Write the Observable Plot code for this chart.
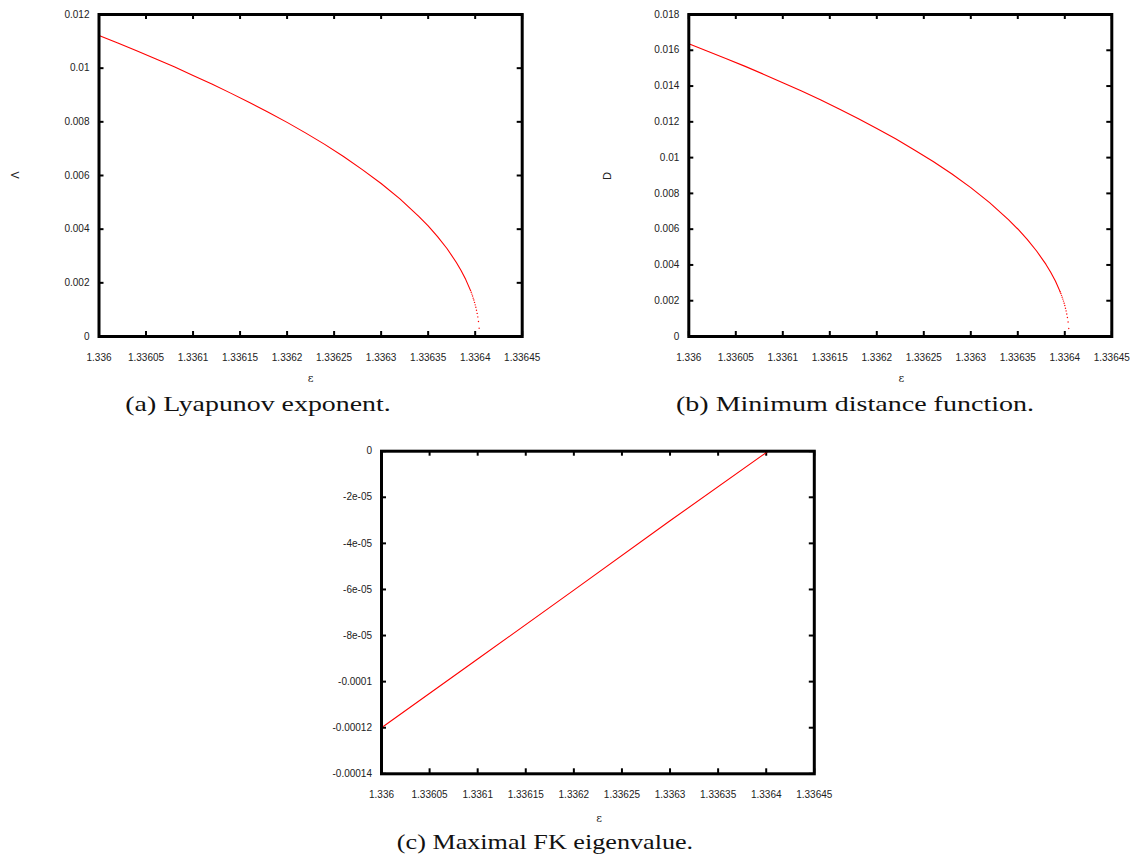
<!DOCTYPE html>
<html><head><meta charset="utf-8">
<script src="https://cdn.jsdelivr.net/npm/d3@7"></script>
<script src="https://cdn.jsdelivr.net/npm/@observablehq/plot@0.6"></script>
<style>
body{margin:0;background:#fff;}
#fig{position:relative;width:1141px;height:857px;background:#fff;overflow:hidden;}
.pn{position:absolute;}
.lab{position:absolute;transform:translate(-50%,-50%);white-space:nowrap;line-height:1;}
.cap{font-family:"Liberation Serif",serif;font-size:22px;color:#111;}
.eps{font-family:"DejaVu Serif",serif;font-size:11px;color:#222;}
.yl{font-family:"Liberation Sans",sans-serif;font-size:11px;color:#222;transform:translate(-50%,-50%) rotate(-90deg);}
</style></head><body><div id="fig"></div>
<script>
// ---- data ----
const epsMain = [1.336, 1.33602, 1.33604, 1.33606, 1.33608, 1.3361, 1.33612, 1.33614, 1.33616, 1.33618, 1.3362,
  1.33622, 1.33624, 1.33626, 1.33628, 1.3363, 1.33632, 1.33634, 1.33635, 1.33636, 1.33637, 1.33638, 1.336385, 1.33639, 1.336395];
const lyapMain = [0.01122, 0.01094, 0.01065, 0.01035, 0.01005, 0.00973, 0.00941, 0.00907, 0.00872, 0.00836, 0.00798,
  0.00758, 0.00716, 0.00671, 0.00622, 0.00570, 0.00513, 0.00448, 0.00412, 0.00372, 0.00328, 0.00276, 0.00246, 0.00212, 0.00172];
const distMain = [0.01636, 0.01595, 0.01553, 0.01510, 0.01465, 0.01419, 0.01372, 0.01323, 0.01272, 0.01219, 0.01163,
  0.01105, 0.01043, 0.00978, 0.00908, 0.00832, 0.00748, 0.00653, 0.00601, 0.00543, 0.00478, 0.00403, 0.00359, 0.00310, 0.00251];
const epsTail = [1.3363951, 1.3363958, 1.3363965, 1.3363972, 1.3363979, 1.3363986, 1.3363993, 1.3364, 1.3364007,
  1.3364014, 1.3364021, 1.3364028, 1.3364035, 1.3364042, 1.3364045];
const lyapTail = [0.00171, 0.00165, 0.00158, 0.00151, 0.00143, 0.00136, 0.00127, 0.00118, 0.00109,
  0.00098, 0.00086, 0.00073, 0.00056, 0.00031, 0.00002];
const distTail = [0.00249, 0.00240, 0.00230, 0.00220, 0.00209, 0.00198, 0.00186, 0.00173, 0.00158,
  0.00143, 0.00126, 0.00106, 0.00081, 0.00045, 0.00003];
const epsFK = [1.336, 1.3361, 1.3362, 1.3363, 1.336402];
const fkEig = [-0.000120, -0.0000902, -0.0000603, -0.0000302, 0];

const xTicks = [1.336, 1.33605, 1.3361, 1.33615, 1.3362, 1.33625, 1.3363, 1.33635, 1.3364, 1.33645];
const xTickLabels = ["1.336", "1.33605", "1.3361", "1.33615", "1.3362", "1.33625", "1.3363", "1.33635", "1.3364", "1.33645"];
const yTicksA = [0, 0.002, 0.004, 0.006, 0.008, 0.01, 0.012];
const yTickLabelsA = ["0", "0.002", "0.004", "0.006", "0.008", "0.01", "0.012"];
const yTicksB = [0, 0.002, 0.004, 0.006, 0.008, 0.01, 0.012, 0.014, 0.016, 0.018];
const yTickLabelsB = ["0", "0.002", "0.004", "0.006", "0.008", "0.01", "0.012", "0.014", "0.016", "0.018"];
const yTicksC = [-0.00014, -0.00012, -0.0001, -0.00008, -0.00006, -0.00004, -0.00002, 0];
const yTickLabelsC = ["-0.00014", "-0.00012", "-0.0001", "-8e-05", "-6e-05", "-4e-05", "-2e-05", "0"];

const panels = [
  {left: 0, top: 0, width: 560, height: 370, mL: 98.5, mR: 38.3, mT: 14, mB: 34,
   yDomain: [0, 0.012], yTicks: yTicksA, yLabels: yTickLabelsA,
   lineX: epsMain, lineY: lyapMain, dotX: epsTail, dotY: lyapTail},
  {left: 580, top: 0, width: 561, height: 370, mL: 108.3, mR: 29.7, mT: 14, mB: 34,
   yDomain: [0, 0.018], yTicks: yTicksB, yLabels: yTickLabelsB,
   lineX: epsMain, lineY: distMain, dotX: epsTail, dotY: distTail},
  {left: 280, top: 436, width: 560, height: 370, mL: 101, mR: 26.2, mT: 14.7, mB: 32.7,
   yDomain: [-0.00014, 0], yTicks: yTicksC, yLabels: yTickLabelsC,
   lineX: epsFK, lineY: fkEig, dotX: [], dotY: []}
];

const fig = document.getElementById("fig");
const TL = 5;
for (const p of panels) {
  const pw = p.width - p.mL - p.mR, ph = p.height - p.mT - p.mB;
  const chart = Plot.plot({
    width: p.width, height: p.height,
    marginLeft: p.mL, marginRight: p.mR, marginTop: p.mT, marginBottom: p.mB,
    style: {fontFamily: "Liberation Sans, Arial, sans-serif", fontSize: "10px", color: "#222", background: "transparent", overflow: "visible"},
    x: {domain: [1.336, 1.33645]},
    y: {domain: p.yDomain},
    marks: [
      Plot.ruleX(xTicks, {x: d => d, insetTop: ph - TL, stroke: "#000", strokeWidth: 2}),
      Plot.ruleX(xTicks, {x: d => d, insetBottom: ph - TL, stroke: "#000", strokeWidth: 2}),
      Plot.ruleY(p.yTicks, {y: d => d, insetRight: pw - TL, stroke: "#000", strokeWidth: 2}),
      Plot.ruleY(p.yTicks, {y: d => d, insetLeft: pw - TL, stroke: "#000", strokeWidth: 2}),
      Plot.axisX(xTicks, {anchor: "bottom", tickSize: 0, tickPadding: 17, label: null,
        tickFormat: d => xTickLabels[xTicks.indexOf(d)]}),
      Plot.axisY(p.yTicks, {anchor: "left", tickSize: 0, tickPadding: 9.5, label: null,
        tickFormat: d => p.yLabels[p.yTicks.indexOf(d)]}),
      Plot.line(p.lineX, {x: d => d, y: (d, i) => p.lineY[i], stroke: "#ff0000", strokeWidth: 1.1}),
      Plot.dot(p.dotX, {x: d => d, y: (d, i) => p.dotY[i], r: 0.7, fill: "#ff0000", stroke: null}),
      Plot.frame({stroke: "#000", strokeWidth: 3})
    ]
  });
  chart.classList.add("pn");
  chart.style.left = p.left + "px";
  chart.style.top = p.top + "px";
  fig.appendChild(chart);
}

const labels = [
  {text: "Λ", x: 15, y: 175, cls: "yl"},
  {text: "D", x: 607, y: 176, cls: "yl"},
  {text: "ε", x: 310.7, y: 378, cls: "eps"},
  {text: "ε", x: 901.3, y: 378, cls: "eps"},
  {text: "ε", x: 599, y: 818, cls: "eps"},
  {text: "(a) Lyapunov exponent.", x: 258, y: 404, cls: "cap", w: 266},
  {text: "(b) Minimum distance function.", x: 855, y: 404, cls: "cap", w: 358},
  {text: "(c) Maximal FK eigenvalue.", x: 545, y: 842, cls: "cap", w: 296}
];
for (const l of labels) {
  const el = document.createElement("div");
  el.className = "lab " + l.cls;
  el.textContent = l.text;
  el.style.left = l.x + "px";
  el.style.top = l.y + "px";
  fig.appendChild(el);
  if (l.w) {
    const s = l.w / el.offsetWidth;
    el.style.transform = `translate(-50%,-50%) scaleX(${s})`;
  }
}
</script>
</body></html>
